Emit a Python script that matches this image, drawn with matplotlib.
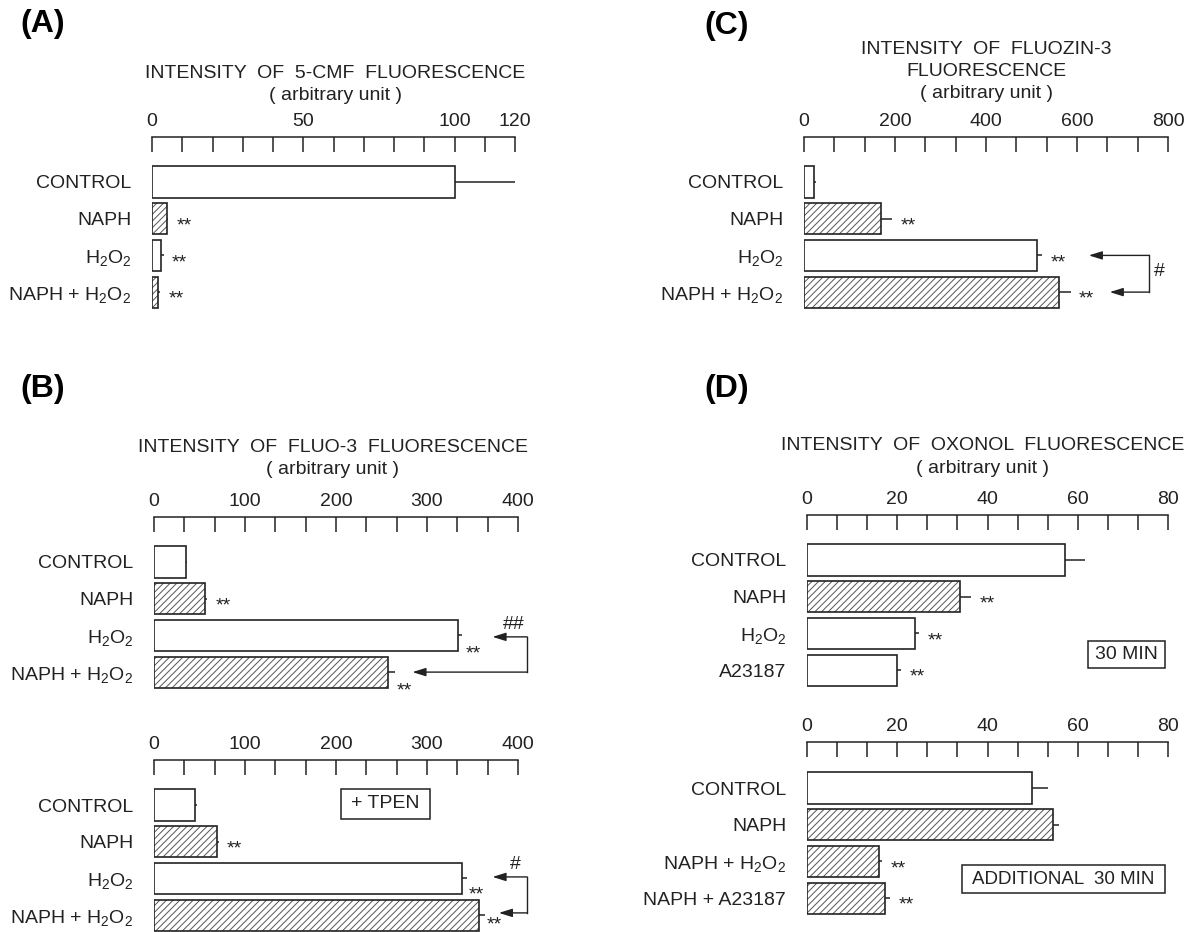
import matplotlib
matplotlib.use('Agg')
import matplotlib.pyplot as plt
from matplotlib.patches import Rectangle
import numpy as np

plt.rcParams['font.family'] = ['Liberation Sans', 'DejaVu Sans']
plt.rcParams['mathtext.fontset'] = 'custom'
plt.rcParams['mathtext.rm'] = 'Liberation Sans'
plt.rcParams['mathtext.it'] = 'Liberation Sans'
plt.rcParams['hatch.linewidth'] = 0.7

INK = '#222222'
HATCH_INK = '#555555'
H2O2 = r'H$_2$O$_2$'

# ---------------- data ----------------
# (A) 5-CMF
a_cats = ['CONTROL', 'NAPH', H2O2, 'NAPH + ' + H2O2]
a_vals = [100, 4.8, 3.1, 2.1]
a_errs = [20, 0.6, 0.8, 0.6]
a_hatch = [False, True, False, True]
a_stars = ['', '**', '**', '**']
a_max = 120
a_labels = {0: '0', 50: '50', 100: '100', 120: '120'}

# (C) FluoZin-3
c_cats = ['CONTROL', 'NAPH', H2O2, 'NAPH + ' + H2O2]
c_vals = [21, 169, 512, 561]
c_errs = [5, 25, 11, 25]
c_hatch = [False, True, False, True]
c_stars = ['', '**', '**', '**']
c_max = 800
c_labels = {0: '0', 200: '200', 400: '400', 600: '600', 800: '800'}

# (B) Fluo-3, top
b1_cats = ['CONTROL', 'NAPH', H2O2, 'NAPH + ' + H2O2]
b1_vals = [35, 56, 334, 257]
b1_errs = [1.5, 2.5, 4, 8]
b1_hatch = [False, True, False, True]
b1_stars = ['', '**', '**', '**']
b_max = 400
b_labels = {0: '0', 100: '100', 200: '200', 300: '300', 400: '400'}

# (B) Fluo-3, + TPEN
b2_cats = ['CONTROL', 'NAPH', H2O2, 'NAPH + ' + H2O2]
b2_vals = [45, 69, 338, 357]
b2_errs = [2, 2, 6, 7]
b2_hatch = [False, True, False, True]
b2_stars = ['', '**', '**', '**']

# (D) Oxonol, 30 min
d1_cats = ['CONTROL', 'NAPH', H2O2, 'A23187']
d1_vals = [57.1, 33.9, 24.0, 20.0]
d1_errs = [4.4, 2.5, 0.9, 0.9]
d1_hatch = [False, True, False, False]
d1_stars = ['', '**', '**', '**']
d_max = 80
d_labels = {0: '0', 20: '20', 40: '40', 60: '60', 80: '80'}

# (D) Oxonol, additional 30 min
d2_cats = ['CONTROL', 'NAPH', 'NAPH + ' + H2O2, 'NAPH + A23187']
d2_vals = [49.9, 54.5, 15.9, 17.2]
d2_errs = [3.6, 1.4, 0.8, 1.2]
d2_hatch = [False, True, True, True]
d2_stars = ['', '', '**', '**']

# ---------------- layout ----------------
W, H = 1192, 932
fig = plt.figure(figsize=(W / 100, H / 100), dpi=100)
fig.patch.set_facecolor('white')
DY = 36.7
FS = 14


def make_axes(left, right, top, row0, nrows=4):
    ylim_top = -(row0 - top) / DY
    ylim_bot = nrows - 1 + 0.5
    h = (ylim_bot - ylim_top) * DY
    ax = fig.add_axes([left / W, 1 - (top + h) / H, (right - left) / W, h / H])
    ax.set_ylim(ylim_bot, ylim_top)
    ax.patch.set_alpha(0)
    return ax


def draw_panel(ax, cats, vals, errs, hatch, stars, xmax, labels, star_shift=None):
    n = len(cats)
    ys = np.arange(n)
    ax.set_xlim(0, xmax)
    ticks = np.linspace(0, xmax, 13)
    ax.xaxis.tick_top()
    ax.set_xticks(ticks)
    ax.set_xticklabels([labels.get(int(round(t)), '') if any(abs(t - k) < 1e-6 for k in labels) else ''
                        for t in ticks])
    ax.tick_params(axis='x', direction='in', length=11, width=1.1, pad=5,
                   labelsize=FS, colors=INK)
    ax.set_yticks(ys)
    ax.set_yticklabels(cats)
    ax.tick_params(axis='y', length=0, pad=15, labelsize=FS, colors=INK)
    for s in ['bottom', 'left', 'right']:
        ax.spines[s].set_visible(False)
    ax.spines['top'].set_linewidth(1.1)
    ax.spines['top'].set_color(INK)
    for i in range(n):
        if hatch[i]:
            ax.barh(ys[i], vals[i], height=0.85, color='white', edgecolor=HATCH_INK,
                    hatch='/////', linewidth=0, zorder=2)
            ax.barh(ys[i], vals[i], height=0.85, fill=False, edgecolor=INK,
                    linewidth=1.2, zorder=3)
        else:
            ax.barh(ys[i], vals[i], height=0.85, color='white', edgecolor=INK,
                    linewidth=1.2, zorder=3)
    ax.errorbar(vals, ys, xerr=[np.zeros(n), errs], fmt='none', ecolor=INK,
                elinewidth=1.1, capsize=0, zorder=2)
    for i in range(n):
        if stars[i]:
            dx, dy = (6, 0)
            if star_shift and i in star_shift:
                dx, dy = star_shift[i]
            ax.annotate(stars[i], xy=(vals[i] + errs[i], ys[i]), xytext=(dx, -8.5 - dy),
                        textcoords='offset points', ha='left', va='baseline',
                        fontsize=FS, color=INK, annotation_clip=False)


def bracket(ax, y1, tip1, y2, tip2, vx, label, lx, ly):
    for y, tip in ((y1, tip1), (y2, tip2)):
        ax.annotate('', xy=(tip, y), xytext=(vx, y),
                    arrowprops=dict(arrowstyle='-|>,head_length=0.8,head_width=0.25',
                                    mutation_scale=10, lw=1.0, color=INK,
                                    shrinkA=0, shrinkB=0),
                    annotation_clip=False)
    ax.plot([vx, vx], [y1, y2], color=INK, lw=1.0, clip_on=False)
    ax.text(lx, ly, label, ha='center', va='center', fontsize=FS, color=INK, clip_on=False)


def boxed(ax, x0, x1, y0, y1, text, fs=FS):
    ax.add_patch(Rectangle((x0, y0), x1 - x0, y1 - y0, fill=False, edgecolor=INK,
                           linewidth=1.1, clip_on=False))
    ax.text((x0 + x1) / 2, (y0 + y1) / 2, text, ha='center', va='center',
            fontsize=fs, color=INK)


def ftext(x, y, s, **kw):
    fig.text(x / W, 1 - y / H, s, **kw)


# panel letters
for lab, x, y in [('(A)', 20, 24), ('(C)', 704, 26), ('(B)', 20, 389), ('(D)', 704, 389)]:
    ftext(x, y, lab, ha='left', va='center', fontsize=23, fontweight='bold', color='black')

# titles
ftext(335, 74, 'INTENSITY  OF  5-CMF  FLUORESCENCE', ha='center', va='center', fontsize=FS, color=INK)
ftext(335, 96, '( arbitrary unit )', ha='center', va='center', fontsize=FS, color=INK)
ftext(986, 50, 'INTENSITY  OF  FLUOZIN-3', ha='center', va='center', fontsize=FS, color=INK)
ftext(986, 72, 'FLUORESCENCE', ha='center', va='center', fontsize=FS, color=INK)
ftext(986, 94, '( arbitrary unit )', ha='center', va='center', fontsize=FS, color=INK)
ftext(333, 448, 'INTENSITY  OF  FLUO-3  FLUORESCENCE', ha='center', va='center', fontsize=FS, color=INK)
ftext(333, 470, '( arbitrary unit )', ha='center', va='center', fontsize=FS, color=INK)
ftext(983, 446, 'INTENSITY  OF  OXONOL  FLUORESCENCE', ha='center', va='center', fontsize=FS, color=INK)
ftext(983, 468, '( arbitrary unit )', ha='center', va='center', fontsize=FS, color=INK)

# (A)
axA = make_axes(152, 515, 137, 182)
draw_panel(axA, a_cats, a_vals, a_errs, a_hatch, a_stars, a_max, a_labels)

# (C)
axC = make_axes(804, 1168, 137, 182)
draw_panel(axC, c_cats, c_vals, c_errs, c_hatch, c_stars, c_max, c_labels)
bracket(axC, 2, 626, 3, 672, 759, '#', 782, 2.45)

# (B) top
axB1 = make_axes(154, 518, 517, 562)
draw_panel(axB1, b1_cats, b1_vals, b1_errs, b1_hatch, b1_stars, b_max, b_labels,
           star_shift={2: (3, 8), 3: (1, 8)})
bracket(axB1, 2.04, 372, 3.0, 284, 410, '##', 395, 1.69)

# (B) bottom (+ TPEN)
axB2 = make_axes(154, 518, 760, 805)
draw_panel(axB2, b2_cats, b2_vals, b2_errs, b2_hatch, b2_stars, b_max, b_labels,
           star_shift={2: (1, 7), 3: (1, 2)})
bracket(axB2, 1.96, 372, 2.94, 379, 410, '#', 397, 1.61)
boxed(axB2, 206, 303, -0.44, 0.38, '+ TPEN')

# (D) top
axD1 = make_axes(807, 1168, 515, 560)
draw_panel(axD1, d1_cats, d1_vals, d1_errs, d1_hatch, d1_stars, d_max, d_labels)
boxed(axD1, 62.3, 79.3, 2.21, 2.94, '30 MIN')

# (D) bottom
axD2 = make_axes(807, 1168, 742, 788)
draw_panel(axD2, d2_cats, d2_vals, d2_errs, d2_hatch, d2_stars, d_max, d_labels)
boxed(axD2, 34.3, 79.3, 2.10, 2.86, 'ADDITIONAL  30 MIN', fs=13.5)

fig.savefig('out.png', dpi=100, facecolor='white')
